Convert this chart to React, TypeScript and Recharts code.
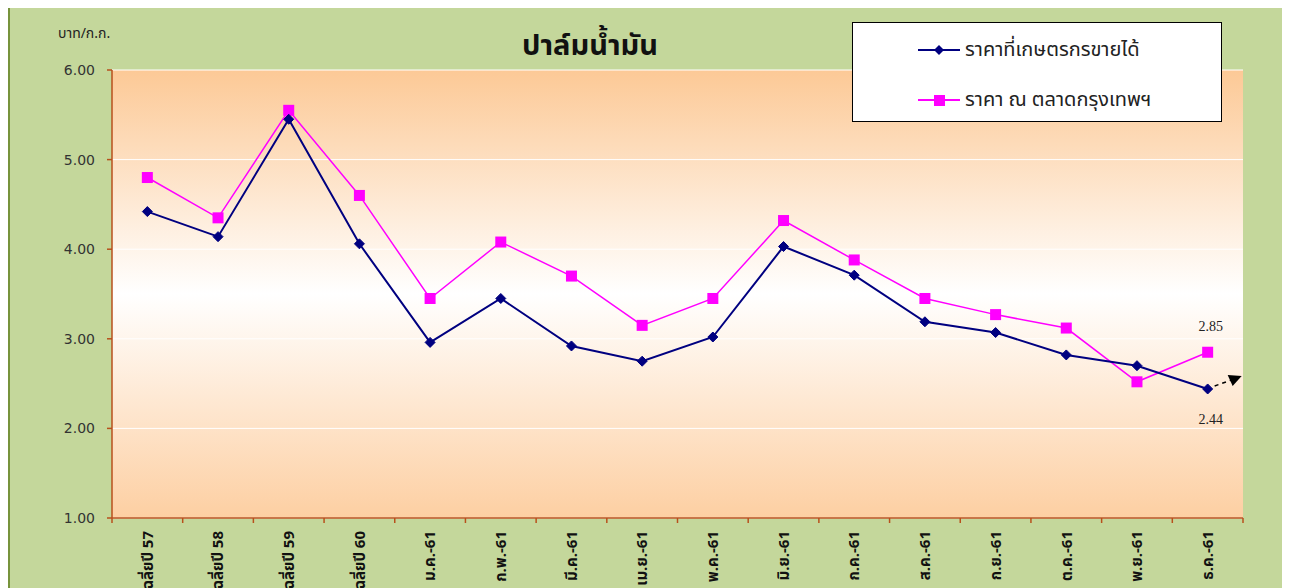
import React from 'react';
import { LineChart, Line, XAxis, YAxis, CartesianGrid, LabelList } from 'recharts';

const categories = [
  'เฉลี่ยปี 57', 'เฉลี่ยปี 58', 'เฉลี่ยปี 59', 'เฉลี่ยปี 60',
  'ม.ค.-61', 'ก.พ.-61', 'มี.ค.-61', 'เม.ย.-61', 'พ.ค.-61', 'มิ.ย.-61',
  'ก.ค.-61', 'ส.ค.-61', 'ก.ย.-61', 'ต.ค.-61', 'พ.ย.-61', 'ธ.ค.-61',
];
const farmerPrice = [4.42, 4.14, 5.45, 4.06, 2.96, 3.45, 2.92, 2.75, 3.02, 4.03, 3.71, 3.19, 3.07, 2.82, 2.70, 2.44];
const bangkokPrice = [4.80, 4.35, 5.55, 4.60, 3.45, 4.08, 3.70, 3.15, 3.45, 4.32, 3.88, 3.45, 3.27, 3.12, 2.52, 2.85];
const yTicks = [1, 2, 3, 4, 5, 6];
const seriesNames = ['ราคาที่เกษตรกรขายได้', 'ราคา ณ ตลาดกรุงเทพฯ'];
const title = 'ปาล์มน้ำมัน';
const unit = 'บาท/ก.ก.';

const data = categories.map((label, i) => ({
  idx: i,
  label,
  farmer: farmerPrice[i],
  bangkok: bangkokPrice[i],
}));
const boundaryTicks = [...categories.map((_, i) => i - 0.5), categories.length - 0.5];

const W = 1280;
const H = 600;
const MARGIN = { top: 62, right: 47, left: 42, bottom: 0 };
const Y_W = 60;
const PLOT_W = W - MARGIN.left - MARGIN.right - Y_W;
const HALF = PLOT_W / categories.length / 2;

const FONT = "Tahoma, 'Noto Sans Thai', 'Leelawadee UI', 'DejaVu Sans', sans-serif";
const NAVY = '#000080';
const MAGENTA = '#ff00ff';
const AXIS = '#b8501c';

const XTick = (props: any) => {
  const { x, y, payload } = props;
  const i = Math.round(payload.value + 0.5);
  if (i < 0 || i >= categories.length) return <g />;
  return (
    <g transform={`translate(${x + HALF},${y})`}>
      <text transform="rotate(-90)" textAnchor="end" dy="0.35em" fontSize={15} fontWeight="bold"
        fill="#111" fontFamily={FONT}>
        {categories[i]}
      </text>
    </g>
  );
};

const Diamond = (props: any) => {
  const { cx, cy } = props;
  if (cx == null || cy == null) return <g />;
  const r = 5;
  return <polygon points={`${cx},${cy - r} ${cx + r},${cy} ${cx},${cy + r} ${cx - r},${cy}`} fill={NAVY} stroke={NAVY} />;
};

const Square = (props: any) => {
  const { cx, cy } = props;
  if (cx == null || cy == null) return <g />;
  const s = 11;
  return <rect x={cx - s / 2} y={cy - s / 2} width={s} height={s} fill={MAGENTA} />;
};

const lastIdx = categories.length - 1;

const FarmerLastLabel = (props: any) => {
  const { x, y, index, value } = props;
  if (index !== lastIdx) return null;
  return (
    <g>
      <text x={x + 3} y={y + 35} textAnchor="middle" fontSize={14} fill="#222"
        fontFamily="'Liberation Serif', 'DejaVu Serif', serif">{Number(value).toFixed(2)}</text>
      <line x1={x + 7} y1={y - 3} x2={x + 24} y2={y - 9} stroke="#000" strokeWidth={1.5} strokeDasharray="4 4" />
      <polygon points={`${x + 34},${y - 13} ${x + 20},${y - 14} ${x + 25},${y - 3}`} fill="#000" />
    </g>
  );
};

const BangkokLastLabel = (props: any) => {
  const { x, y, index, value } = props;
  if (index !== lastIdx) return null;
  return (
    <text x={x + 3} y={y - 21} textAnchor="middle" fontSize={14} fill="#222"
      fontFamily="'Liberation Serif', 'DejaVu Serif', serif">{Number(value).toFixed(2)}</text>
  );
};

export default function App() {
  return (
    <div style={{
      position: 'relative', width: W, height: H, marginTop: -2,
      background: '#c4d79b', border: '2px solid #77933c', overflow: 'hidden',
    }}>
      <div style={{
        position: 'absolute', left: 48, top: 15, fontSize: 14, color: '#222', fontFamily: FONT,
      }}>{unit}</div>
      <div style={{
        position: 'absolute', left: 430, width: 300, top: 16, textAlign: 'center',
        fontSize: 29, fontWeight: 'bold', color: '#111', fontFamily: FONT,
      }}>{title}</div>
      <LineChart width={W} height={H} data={data} margin={MARGIN}>
        <defs>
          <linearGradient id="plotBg" x1="0" y1="0" x2="0" y2="1">
            <stop offset="0%" stopColor="#fcc996" />
            <stop offset="50%" stopColor="#ffffff" />
            <stop offset="100%" stopColor="#fdcfa2" />
          </linearGradient>
        </defs>
        <CartesianGrid vertical={false} horizontal stroke="#ffffff" strokeWidth={1} fill="url(#plotBg)" fillOpacity={1} />
        <XAxis
          dataKey="idx"
          type="number"
          domain={[-0.5, categories.length - 0.5]}
          ticks={boundaryTicks}
          interval={0}
          height={90}
          axisLine={{ stroke: AXIS, strokeWidth: 1.5 }}
          tickLine={{ stroke: AXIS, strokeWidth: 1.5 }}
          tickSize={5}
          tickMargin={8}
          tick={<XTick />}
        />
        <YAxis
          type="number"
          domain={[1, 6]}
          ticks={yTicks}
          interval={0}
          width={Y_W}
          axisLine={{ stroke: AXIS, strokeWidth: 1.5 }}
          tickLine={{ stroke: AXIS, strokeWidth: 1.5 }}
          tickSize={5}
          tickMargin={12}
          tickFormatter={(v: number) => v.toFixed(2)}
          tick={{ fontSize: 14, fill: '#333', fontFamily: "'DejaVu Sans', Tahoma, sans-serif" }}
        />
        <Line
          dataKey="bangkok"
          name={seriesNames[1]}
          stroke={MAGENTA}
          strokeWidth={1.5}
          dot={<Square />}
          activeDot={false}
          isAnimationActive={false}
        >
          <LabelList dataKey="bangkok" content={<BangkokLastLabel />} />
        </Line>
        <Line
          dataKey="farmer"
          name={seriesNames[0]}
          stroke={NAVY}
          strokeWidth={2}
          dot={<Diamond />}
          activeDot={false}
          isAnimationActive={false}
        >
          <LabelList dataKey="farmer" content={<FarmerLastLabel />} />
        </Line>
      </LineChart>
      <div style={{
        position: 'absolute', left: 842, top: 14, width: 368, height: 98,
        background: '#fff', border: '1px solid #000', fontFamily: FONT,
      }}>
        {[{ c: NAVY, m: 'd' }, { c: MAGENTA, m: 's' }].map((it, i) => (
          <div key={i} style={{ position: 'absolute', left: 65, top: i === 0 ? 12 : 62, display: 'flex', alignItems: 'center' }}>
            <svg width={44} height={20}>
              <line x1={0} y1={10} x2={42} y2={10} stroke={it.c} strokeWidth={2} />
              {it.m === 'd'
                ? <polygon points="21,5 26,10 21,15 16,10" fill={it.c} />
                : <rect x={16} y={5} width={11} height={11} fill={it.c} />}
            </svg>
            <span style={{ fontSize: 20, color: '#222', marginLeft: 3 }}>{seriesNames[i]}</span>
          </div>
        ))}
      </div>
    </div>
  );
}
